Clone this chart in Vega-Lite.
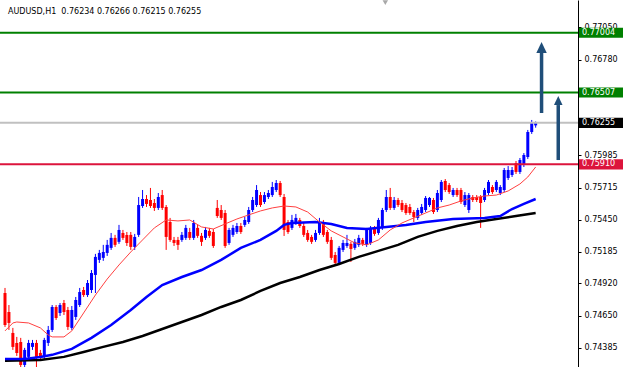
{
  "$schema": "https://vega.github.io/schema/vega-lite/v6.json",
  "width": 578,
  "height": 367,
  "autosize": {"type": "none"},
  "padding": {"left": 0, "top": 0, "right": 46, "bottom": 0},
  "background": "#FFFFFF",
  "title": {"text": "AUDUSD,H1\u00a0 0.76234 0.76266 0.76215 0.76255", "anchor": "start", "frame": "group", "orient": "top", "offset": -16, "dx": 8, "font": "DejaVu Sans", "fontSize": 8, "fontWeight": "normal", "color": "#000000"},
  "config": {"view": {"stroke": null}, "font": "DejaVu Sans"},
  "resolve": {"axis": {"x": "independent", "y": "independent"}},
  "datasets": {
    "candles": [
      {"i":0,"open":0.74841,"high":0.74883,"low":0.74559,"close":0.74575},
      {"i":1,"open":0.74683,"high":0.74741,"low":0.74534,"close":0.74592},
      {"i":2,"open":0.74509,"high":0.74551,"low":0.74368,"close":0.74393},
      {"i":3,"open":0.74426,"high":0.74476,"low":0.74318,"close":0.74343},
      {"i":4,"open":0.74434,"high":0.74468,"low":0.74200,"close":0.74243},
      {"i":5,"open":0.74243,"high":0.74385,"low":0.74200,"close":0.74368},
      {"i":6,"open":0.74310,"high":0.74451,"low":0.74277,"close":0.74426},
      {"i":7,"open":0.74393,"high":0.74451,"low":0.74368,"close":0.74426},
      {"i":8,"open":0.74426,"high":0.74451,"low":0.74200,"close":0.74310},
      {"i":9,"open":0.74343,"high":0.74368,"low":0.74285,"close":0.74310},
      {"i":10,"open":0.74310,"high":0.74468,"low":0.74285,"close":0.74451},
      {"i":11,"open":0.74426,"high":0.74567,"low":0.74401,"close":0.74534},
      {"i":12,"open":0.74534,"high":0.74741,"low":0.74517,"close":0.74725},
      {"i":13,"open":0.74725,"high":0.74741,"low":0.74617,"close":0.74633},
      {"i":14,"open":0.74675,"high":0.74758,"low":0.74650,"close":0.74741},
      {"i":15,"open":0.74758,"high":0.74783,"low":0.74658,"close":0.74683},
      {"i":16,"open":0.74700,"high":0.74725,"low":0.74534,"close":0.74559},
      {"i":17,"open":0.74551,"high":0.74733,"low":0.74534,"close":0.74700},
      {"i":18,"open":0.74642,"high":0.74808,"low":0.74617,"close":0.74783},
      {"i":19,"open":0.74741,"high":0.74883,"low":0.74725,"close":0.74849},
      {"i":20,"open":0.74866,"high":0.74891,"low":0.74808,"close":0.74824},
      {"i":21,"open":0.74824,"high":0.74949,"low":0.74808,"close":0.74924},
      {"i":22,"open":0.74866,"high":0.75032,"low":0.74841,"close":0.75007},
      {"i":23,"open":0.74991,"high":0.75166,"low":0.74841,"close":0.75141},
      {"i":24,"open":0.75116,"high":0.75199,"low":0.75091,"close":0.75174},
      {"i":25,"open":0.75133,"high":0.75241,"low":0.75108,"close":0.75182},
      {"i":26,"open":0.75174,"high":0.75282,"low":0.75149,"close":0.75241},
      {"i":27,"open":0.75216,"high":0.75340,"low":0.75199,"close":0.75299},
      {"i":28,"open":0.75299,"high":0.75324,"low":0.75224,"close":0.75241},
      {"i":29,"open":0.75266,"high":0.75407,"low":0.75249,"close":0.75365},
      {"i":30,"open":0.75340,"high":0.75365,"low":0.75282,"close":0.75299},
      {"i":31,"open":0.75324,"high":0.75348,"low":0.75232,"close":0.75257},
      {"i":32,"open":0.75324,"high":0.75348,"low":0.75199,"close":0.75224},
      {"i":33,"open":0.75224,"high":0.75332,"low":0.75199,"close":0.75307},
      {"i":34,"open":0.75324,"high":0.75639,"low":0.75307,"close":0.75572},
      {"i":35,"open":0.75564,"high":0.75697,"low":0.75548,"close":0.75622},
      {"i":36,"open":0.75622,"high":0.75655,"low":0.75556,"close":0.75581},
      {"i":37,"open":0.75614,"high":0.75714,"low":0.75548,"close":0.75564},
      {"i":38,"open":0.75589,"high":0.75622,"low":0.75523,"close":0.75548},
      {"i":39,"open":0.75548,"high":0.75672,"low":0.75531,"close":0.75639},
      {"i":40,"open":0.75655,"high":0.75697,"low":0.75531,"close":0.75548},
      {"i":41,"open":0.75556,"high":0.75572,"low":0.75199,"close":0.75307},
      {"i":42,"open":0.75431,"high":0.75465,"low":0.75266,"close":0.75282},
      {"i":43,"open":0.75282,"high":0.75307,"low":0.75232,"close":0.75257},
      {"i":44,"open":0.75282,"high":0.75307,"low":0.75199,"close":0.75241},
      {"i":45,"open":0.75282,"high":0.75348,"low":0.75266,"close":0.75324},
      {"i":46,"open":0.75299,"high":0.75407,"low":0.75282,"close":0.75382},
      {"i":47,"open":0.75348,"high":0.75382,"low":0.75282,"close":0.75299},
      {"i":48,"open":0.75299,"high":0.75448,"low":0.75282,"close":0.75423},
      {"i":49,"open":0.75382,"high":0.75407,"low":0.75299,"close":0.75316},
      {"i":50,"open":0.75316,"high":0.75340,"low":0.75232,"close":0.75266},
      {"i":51,"open":0.75299,"high":0.75390,"low":0.75282,"close":0.75365},
      {"i":52,"open":0.75357,"high":0.75382,"low":0.75299,"close":0.75316},
      {"i":53,"open":0.75348,"high":0.75373,"low":0.75216,"close":0.75232},
      {"i":54,"open":0.75548,"high":0.75614,"low":0.75465,"close":0.75481},
      {"i":55,"open":0.75531,"high":0.75572,"low":0.75448,"close":0.75465},
      {"i":56,"open":0.75506,"high":0.75531,"low":0.75216,"close":0.75232},
      {"i":57,"open":0.75257,"high":0.75382,"low":0.75241,"close":0.75365},
      {"i":58,"open":0.75324,"high":0.75407,"low":0.75307,"close":0.75382},
      {"i":59,"open":0.75348,"high":0.75423,"low":0.75332,"close":0.75398},
      {"i":60,"open":0.75398,"high":0.75423,"low":0.75332,"close":0.75348},
      {"i":61,"open":0.75407,"high":0.75473,"low":0.75390,"close":0.75448},
      {"i":62,"open":0.75431,"high":0.75556,"low":0.75415,"close":0.75531},
      {"i":63,"open":0.75531,"high":0.75639,"low":0.75514,"close":0.75614},
      {"i":64,"open":0.75572,"high":0.75738,"low":0.75556,"close":0.75697},
      {"i":65,"open":0.75655,"high":0.75680,"low":0.75556,"close":0.75572},
      {"i":66,"open":0.75597,"high":0.75680,"low":0.75581,"close":0.75655},
      {"i":67,"open":0.75639,"high":0.75697,"low":0.75622,"close":0.75672},
      {"i":68,"open":0.75655,"high":0.75764,"low":0.75639,"close":0.75722},
      {"i":69,"open":0.75697,"high":0.75780,"low":0.75680,"close":0.75755},
      {"i":70,"open":0.75755,"high":0.75772,"low":0.75639,"close":0.75655},
      {"i":71,"open":0.75639,"high":0.75664,"low":0.75315,"close":0.75365},
      {"i":72,"open":0.75431,"high":0.75448,"low":0.75332,"close":0.75348},
      {"i":73,"open":0.75382,"high":0.75490,"low":0.75365,"close":0.75448},
      {"i":74,"open":0.75423,"high":0.75498,"low":0.75407,"close":0.75465},
      {"i":75,"open":0.75448,"high":0.75465,"low":0.75382,"close":0.75398},
      {"i":76,"open":0.75398,"high":0.75423,"low":0.75307,"close":0.75324},
      {"i":77,"open":0.75340,"high":0.75365,"low":0.75266,"close":0.75282},
      {"i":78,"open":0.75307,"high":0.75324,"low":0.75249,"close":0.75266},
      {"i":79,"open":0.75282,"high":0.75365,"low":0.75266,"close":0.75340},
      {"i":80,"open":0.75340,"high":0.75465,"low":0.75324,"close":0.75423},
      {"i":81,"open":0.75423,"high":0.75448,"low":0.75307,"close":0.75324},
      {"i":82,"open":0.75348,"high":0.75365,"low":0.75249,"close":0.75266},
      {"i":83,"open":0.75282,"high":0.75307,"low":0.75116,"close":0.75133},
      {"i":84,"open":0.75157,"high":0.75182,"low":0.75074,"close":0.75091},
      {"i":85,"open":0.75091,"high":0.75232,"low":0.75074,"close":0.75216},
      {"i":86,"open":0.75199,"high":0.75282,"low":0.75182,"close":0.75257},
      {"i":87,"open":0.75232,"high":0.75324,"low":0.75216,"close":0.75257},
      {"i":88,"open":0.75249,"high":0.75266,"low":0.75099,"close":0.75207},
      {"i":89,"open":0.75216,"high":0.75290,"low":0.75199,"close":0.75266},
      {"i":90,"open":0.75241,"high":0.75324,"low":0.75224,"close":0.75299},
      {"i":91,"open":0.75282,"high":0.75299,"low":0.75232,"close":0.75249},
      {"i":92,"open":0.75241,"high":0.75382,"low":0.75224,"close":0.75365},
      {"i":93,"open":0.75257,"high":0.75398,"low":0.75241,"close":0.75382},
      {"i":94,"open":0.75382,"high":0.75398,"low":0.75316,"close":0.75332},
      {"i":95,"open":0.75340,"high":0.75465,"low":0.75324,"close":0.75448},
      {"i":96,"open":0.75382,"high":0.75548,"low":0.75365,"close":0.75531},
      {"i":97,"open":0.75531,"high":0.75697,"low":0.75514,"close":0.75639},
      {"i":98,"open":0.75639,"high":0.75714,"low":0.75531,"close":0.75548},
      {"i":99,"open":0.75548,"high":0.75639,"low":0.75531,"close":0.75614},
      {"i":100,"open":0.75614,"high":0.75631,"low":0.75556,"close":0.75572},
      {"i":101,"open":0.75589,"high":0.75614,"low":0.75514,"close":0.75531},
      {"i":102,"open":0.75572,"high":0.75589,"low":0.75490,"close":0.75506},
      {"i":103,"open":0.75556,"high":0.75581,"low":0.75490,"close":0.75506},
      {"i":104,"open":0.75514,"high":0.75531,"low":0.75431,"close":0.75473},
      {"i":105,"open":0.75465,"high":0.75548,"low":0.75448,"close":0.75531},
      {"i":106,"open":0.75506,"high":0.75581,"low":0.75490,"close":0.75556},
      {"i":107,"open":0.75531,"high":0.75647,"low":0.75514,"close":0.75631},
      {"i":108,"open":0.75572,"high":0.75639,"low":0.75556,"close":0.75631},
      {"i":109,"open":0.75614,"high":0.75631,"low":0.75498,"close":0.75514},
      {"i":110,"open":0.75531,"high":0.75697,"low":0.75514,"close":0.75672},
      {"i":111,"open":0.75614,"high":0.75780,"low":0.75597,"close":0.75764},
      {"i":112,"open":0.75772,"high":0.75788,"low":0.75680,"close":0.75697},
      {"i":113,"open":0.75738,"high":0.75755,"low":0.75664,"close":0.75680},
      {"i":114,"open":0.75655,"high":0.75714,"low":0.75639,"close":0.75697},
      {"i":115,"open":0.75697,"high":0.75714,"low":0.75639,"close":0.75655},
      {"i":116,"open":0.75697,"high":0.75714,"low":0.75581,"close":0.75597},
      {"i":117,"open":0.75572,"high":0.75680,"low":0.75556,"close":0.75655},
      {"i":118,"open":0.75531,"high":0.75672,"low":0.75506,"close":0.75655},
      {"i":119,"open":0.75639,"high":0.75655,"low":0.75597,"close":0.75614},
      {"i":120,"open":0.75639,"high":0.75655,"low":0.75597,"close":0.75614},
      {"i":121,"open":0.75639,"high":0.75655,"low":0.75382,"close":0.75589},
      {"i":122,"open":0.75614,"high":0.75714,"low":0.75597,"close":0.75697},
      {"i":123,"open":0.75672,"high":0.75780,"low":0.75655,"close":0.75764},
      {"i":124,"open":0.75722,"high":0.75738,"low":0.75664,"close":0.75680},
      {"i":125,"open":0.75697,"high":0.75780,"low":0.75680,"close":0.75764},
      {"i":126,"open":0.75672,"high":0.75738,"low":0.75655,"close":0.75722},
      {"i":127,"open":0.75697,"high":0.75880,"low":0.75680,"close":0.75863},
      {"i":128,"open":0.75797,"high":0.75896,"low":0.75780,"close":0.75863},
      {"i":129,"open":0.75822,"high":0.75888,"low":0.75805,"close":0.75863},
      {"i":130,"open":0.75921,"high":0.75938,"low":0.75830,"close":0.75847},
      {"i":131,"open":0.75847,"high":0.75963,"low":0.75830,"close":0.75946},
      {"i":132,"open":0.75905,"high":0.76004,"low":0.75888,"close":0.75988},
      {"i":133,"open":0.75971,"high":0.76196,"low":0.75955,"close":0.76179},
      {"i":134,"open":0.76179,"high":0.76279,"low":0.76163,"close":0.76254},
      {"i":135,"open":0.76234,"high":0.76266,"low":0.76215,"close":0.76255}
    ],
    "maFast": [
      {"i":0,"value":0.74526},{"i":2,"value":0.74592},{"i":3,"value":0.74600},{"i":6,"value":0.74592},
      {"i":9,"value":0.74551},{"i":11,"value":0.74492},{"i":12,"value":0.74476},{"i":15,"value":0.74476},
      {"i":17,"value":0.74526},{"i":20,"value":0.74675},{"i":23,"value":0.74824},{"i":26,"value":0.74957},
      {"i":29,"value":0.75074},{"i":32,"value":0.75182},{"i":35,"value":0.75282},{"i":38,"value":0.75382},
      {"i":41,"value":0.75448},{"i":44,"value":0.75440},{"i":47,"value":0.75448},{"i":50,"value":0.75390},
      {"i":53,"value":0.75373},{"i":56,"value":0.75415},{"i":59,"value":0.75456},{"i":62,"value":0.75490},
      {"i":65,"value":0.75523},{"i":68,"value":0.75548},{"i":71,"value":0.75564},{"i":74,"value":0.75556},
      {"i":77,"value":0.75514},{"i":80,"value":0.75431},{"i":83,"value":0.75357},{"i":86,"value":0.75307},
      {"i":89,"value":0.75257},{"i":92,"value":0.75241},{"i":95,"value":0.75282},{"i":98,"value":0.75365},
      {"i":101,"value":0.75423},{"i":104,"value":0.75465},{"i":107,"value":0.75506},{"i":110,"value":0.75548},
      {"i":113,"value":0.75572},{"i":116,"value":0.75606},{"i":119,"value":0.75631},{"i":122,"value":0.75647},
      {"i":125,"value":0.75655},{"i":128,"value":0.75689},{"i":131,"value":0.75747},{"i":133,"value":0.75805},
      {"i":135,"value":0.75888}
    ],
    "maMid": [
      {"i":0,"value":0.74293},{"i":5,"value":0.74293},{"i":9,"value":0.74310},{"i":12,"value":0.74327},
      {"i":17,"value":0.74376},{"i":22,"value":0.74468},{"i":27,"value":0.74575},{"i":32,"value":0.74700},
      {"i":36,"value":0.74808},{"i":40,"value":0.74907},{"i":45,"value":0.74974},{"i":50,"value":0.75032},
      {"i":55,"value":0.75116},{"i":60,"value":0.75216},{"i":65,"value":0.75282},{"i":69,"value":0.75357},
      {"i":71,"value":0.75407},{"i":73,"value":0.75423},{"i":79,"value":0.75431},{"i":83,"value":0.75415},
      {"i":87,"value":0.75382},{"i":92,"value":0.75373},{"i":97,"value":0.75390},{"i":102,"value":0.75407},
      {"i":107,"value":0.75431},{"i":114,"value":0.75456},{"i":122,"value":0.75465},{"i":126,"value":0.75481},
      {"i":129,"value":0.75539},{"i":132,"value":0.75581},{"i":135,"value":0.75622}
    ],
    "maSlow": [
      {"i":0,"value":0.74277},{"i":9,"value":0.74285},{"i":15,"value":0.74310},{"i":20,"value":0.74351},
      {"i":25,"value":0.74393},{"i":30,"value":0.74434},{"i":35,"value":0.74484},{"i":40,"value":0.74542},
      {"i":45,"value":0.74600},{"i":50,"value":0.74658},{"i":55,"value":0.74725},{"i":60,"value":0.74783},
      {"i":65,"value":0.74858},{"i":70,"value":0.74924},{"i":75,"value":0.74974},{"i":80,"value":0.75032},
      {"i":85,"value":0.75082},{"i":90,"value":0.75141},{"i":95,"value":0.75191},{"i":100,"value":0.75241},
      {"i":105,"value":0.75307},{"i":110,"value":0.75357},{"i":115,"value":0.75398},{"i":120,"value":0.75431},
      {"i":125,"value":0.75456},{"i":130,"value":0.75481},{"i":135,"value":0.75506}
    ],
    "levels": [
      {"price":0.77004,"kind":"target 2"},
      {"price":0.76507,"kind":"target 1"},
      {"price":0.76255,"kind":"bid"},
      {"price":0.75910,"kind":"breakout"}
    ],
    "arrows": [
      {"name":"a1","i":136.5,"base":0.76337,"neck":0.76836,"head":0.76881},
      {"name":"a2","i":140.75,"base":0.75946,"neck":0.76403,"head":0.76441}
    ],
    "markers": [
      {"i":96.75,"price":0.77255}
    ]
  },
  "layer": [
    {
      "data": {"name": "candles"},
      "mark": {"type": "rule", "strokeWidth": 1},
      "encoding": {
        "x": {"field": "i", "type": "quantitative", "scale": {"domain": [0, 144.5], "nice": false, "zero": false}, "axis": null},
        "y": {"field": "low", "type": "quantitative", "scale": {"domain": [0.74226, 0.77276], "nice": false, "zero": false},
              "axis": {"orient": "right", "title": null, "values": [0.7705, 0.7678, 0.75985, 0.75715, 0.7545, 0.75185, 0.7492, 0.7465, 0.74385], "format": ".5f", "grid": false, "labelFont": "DejaVu Sans", "labelFontSize": 8, "labelColor": "#000000", "tickColor": "#000000", "tickSize": 3, "labelPadding": 3, "domainColor": "#000000", "domainWidth": 1, "labelFlush": false, "labelOverlap": false, "zindex": 0}},
        "y2": {"field": "high"},
        "color": {"condition": {"test": "datum.close >= datum.open", "value": "#0000FF"}, "value": "#FF0000"}
      }
    },
    {
      "data": {"name": "candles"},
      "mark": {"type": "bar", "width": 3, "orient": "vertical"},
      "encoding": {
        "x": {"field": "i", "type": "quantitative", "axis": null},
        "y": {"field": "open", "type": "quantitative", "axis": null},
        "y2": {"field": "close"},
        "color": {"condition": {"test": "datum.close >= datum.open", "value": "#0000FF"}, "value": "#FF0000"}
      }
    },
    {
      "data": {"name": "maSlow"},
      "mark": {"type": "line", "color": "#000000", "strokeWidth": 2.5},
      "encoding": {
        "x": {"field": "i", "type": "quantitative", "axis": null},
        "y": {"field": "value", "type": "quantitative", "axis": null}
      }
    },
    {
      "data": {"name": "maMid"},
      "mark": {"type": "line", "color": "#0000FF", "strokeWidth": 2.5},
      "encoding": {
        "x": {"field": "i", "type": "quantitative", "axis": null},
        "y": {"field": "value", "type": "quantitative", "axis": null}
      }
    },
    {
      "data": {"name": "maFast"},
      "mark": {"type": "line", "color": "#FF4040", "strokeWidth": 1},
      "encoding": {
        "x": {"field": "i", "type": "quantitative", "axis": null},
        "y": {"field": "value", "type": "quantitative", "axis": null}
      }
    },
    {
      "data": {"name": "levels"},
      "mark": {"type": "rule"},
      "encoding": {
        "y": {"field": "price", "type": "quantitative", "axis": null},
        "color": {"field": "kind", "type": "nominal", "scale": {"domain": ["target 2", "target 1", "bid", "breakout"], "range": ["#008000", "#008000", "#C0C0C0", "#DC143C"]}, "legend": null},
        "strokeWidth": {"field": "kind", "type": "nominal", "scale": {"domain": ["target 2", "target 1", "bid", "breakout"], "range": [2, 2, 1, 2]}, "legend": null}
      }
    },
    {
      "data": {"name": "markers"},
      "mark": {"type": "point", "shape": "triangle-down", "filled": true, "color": "#A8A8A8", "opacity": 1, "size": 30, "strokeWidth": 0},
      "encoding": {
        "x": {"field": "i", "type": "quantitative", "axis": null},
        "y": {"field": "price", "type": "quantitative", "axis": null}
      }
    },
    {
      "data": {"name": "arrows"},
      "mark": {"type": "rule", "color": "#1F4E79", "strokeWidth": 3.5},
      "encoding": {
        "x": {"field": "i", "type": "quantitative", "axis": null},
        "y": {"field": "base", "type": "quantitative", "axis": null},
        "y2": {"field": "neck"}
      }
    },
    {
      "data": {"name": "arrows"},
      "mark": {"type": "point", "shape": "M0,-1L0.95,1L-0.95,1Z", "filled": true, "color": "#1F4E79", "opacity": 1, "strokeWidth": 0},
      "encoding": {
        "x": {"field": "i", "type": "quantitative", "axis": null},
        "y": {"field": "head", "type": "quantitative", "axis": null},
        "size": {"field": "name", "type": "ordinal", "scale": {"domain": ["a1", "a2"], "range": [121, 81]}, "legend": null}
      }
    },
    {
      "data": {"name": "levels"},
      "mark": {"type": "point", "shape": "M-1,-0.23L1,-0.23L1,0.23L-1,0.23Z", "filled": true, "opacity": 1, "strokeWidth": 0, "size": 1936, "xOffset": 23},
      "encoding": {
        "x": {"value": "width"},
        "y": {"field": "price", "type": "quantitative", "axis": null},
        "fill": {"field": "kind", "type": "nominal", "scale": {"domain": ["target 2", "target 1", "bid", "breakout"], "range": ["#008000", "#008000", "#000000", "#DC143C"]}, "legend": null}
      }
    },
    {
      "data": {"name": "levels"},
      "mark": {"type": "text", "align": "left", "baseline": "middle", "dx": 4, "color": "#FFFFFF", "font": "DejaVu Sans", "fontSize": 8},
      "encoding": {
        "x": {"value": "width"},
        "y": {"field": "price", "type": "quantitative", "axis": null},
        "text": {"field": "price", "type": "quantitative", "format": ".5f"}
      }
    }
  ]
}
